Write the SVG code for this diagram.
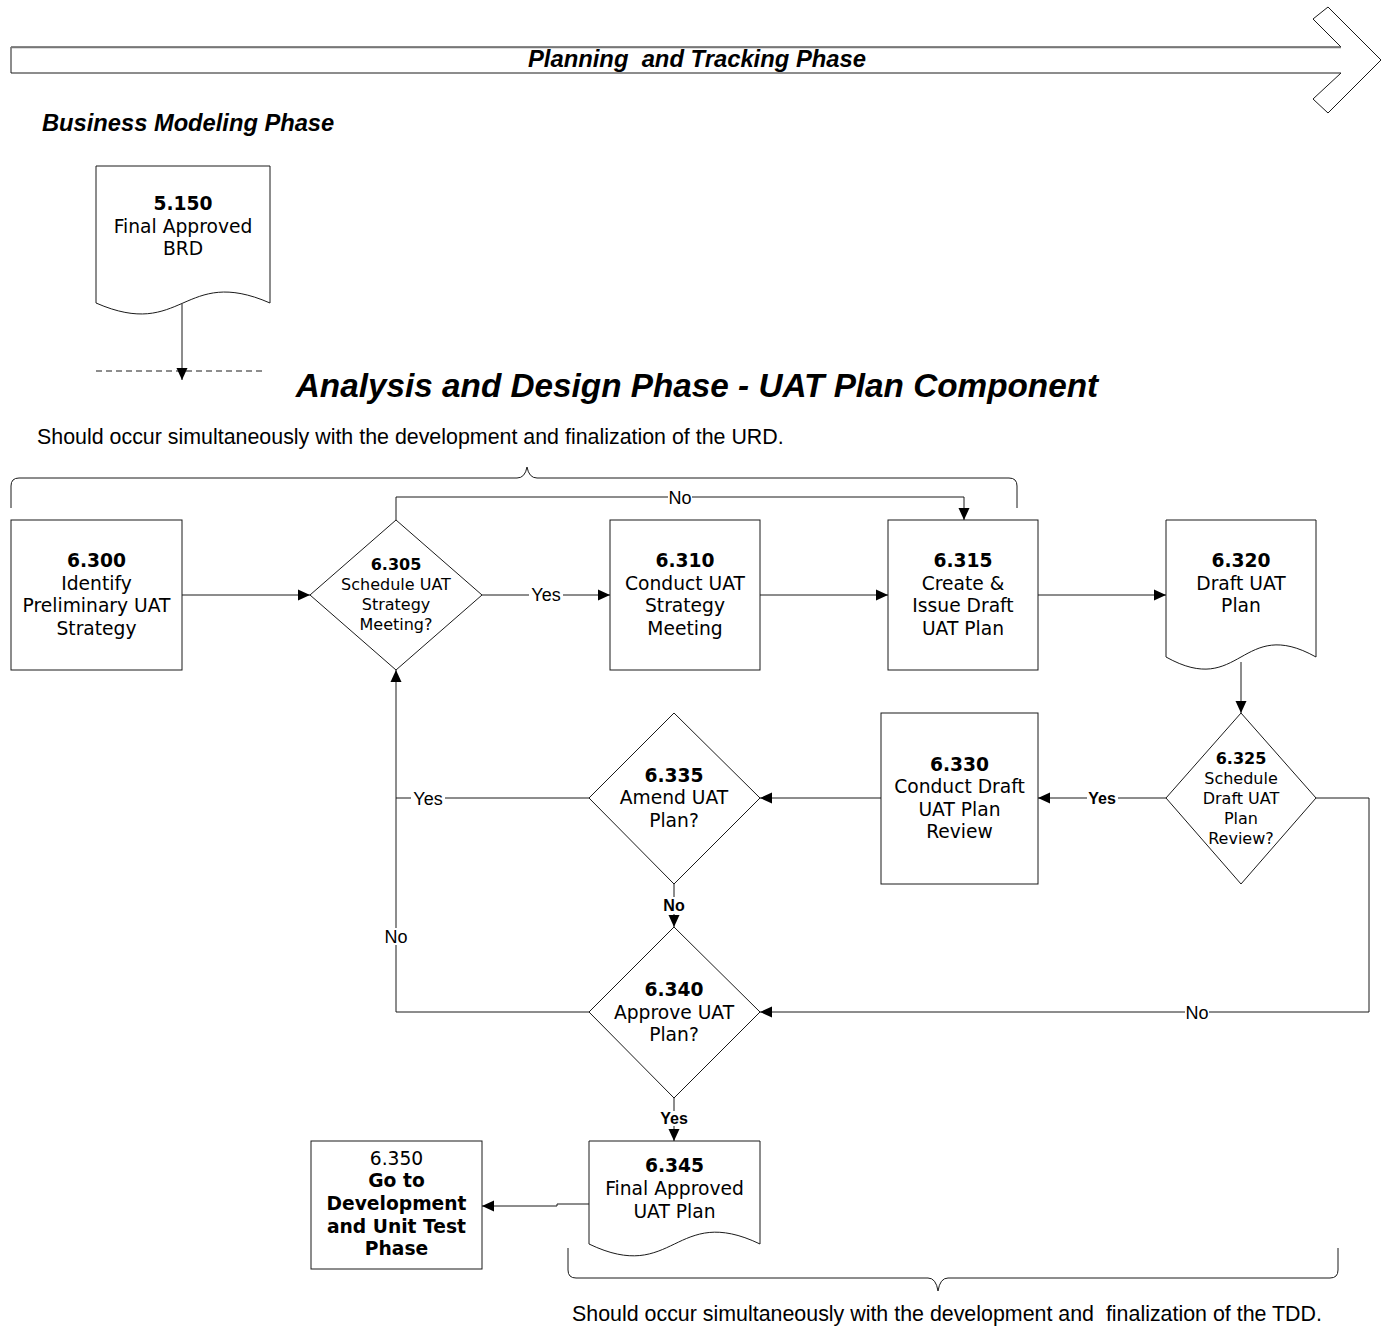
<svg xmlns="http://www.w3.org/2000/svg" width="1388" height="1328" viewBox="0 0 1388 1328">
  <defs>
    <marker id="arrow" viewBox="0 0 12 12" refX="12" refY="6" markerWidth="12" markerHeight="12" markerUnits="userSpaceOnUse" orient="auto">
      <path d="M0,0.5 L12,6 L0,11.5 Z" fill="#000"/>
    </marker>
    <style>
      .shape { fill: #fff; stroke: #1a1a1a; stroke-width: 1; }
      .line { fill: none; stroke: #1a1a1a; stroke-width: 1; }
      .node { font-family: "DejaVu Sans", Verdana, sans-serif; font-size: 18.7px; fill: #000; text-anchor: middle; }
      .small { font-size: 16px; }
      .num { font-weight: bold; }
      .lbl { font-family: "Liberation Sans", Arial, sans-serif; font-size: 18px; fill: #000; text-anchor: middle; }
      .lblb { font-family: "Liberation Sans", Arial, sans-serif; font-size: 16px; font-weight: bold; fill: #000; text-anchor: middle; }
      .phase { font-family: "Liberation Sans", Arial, sans-serif; font-weight: bold; font-style: italic; fill: #000; }
      .note { font-family: "Liberation Sans", Arial, sans-serif; font-size: 21.4px; fill: #000; }
      .bg { fill: #fff; stroke: none; }
    </style>
  </defs>

  <rect width="1388" height="1328" fill="#fff"/>

  <!-- Planning and tracking banner arrow -->
  <g id="planning-banner">
    <polygon class="shape" points="11,47 1341,47 1313,19 1328,7 1381,60 1328,113 1313,99 1341,73 11,73" stroke="#333"/>
    <path d="M11,47.5 H1341" stroke="#777" stroke-width="1.5" fill="none"/>
    <text class="phase" x="697" y="67" font-size="23.8" text-anchor="middle" xml:space="preserve">Planning  and Tracking Phase</text>
  </g>

  <text class="phase" x="42" y="131" font-size="23.7">Business Modeling Phase</text>

  <text class="phase" x="697" y="397" font-size="33.3" text-anchor="middle">Analysis and Design Phase - UAT Plan Component</text>

  <!-- annotations with braces -->
  <g id="annotations">
    <text class="note" x="37" y="444">Should occur simultaneously with the development and finalization of the URD.</text>
    <path class="line" d="M11,508 V486 Q11,478 19,478 H517 Q525,478 527,467 Q529,478 537,478 H1009 Q1017,478 1017,486 V508"/>
    <path class="line" d="M568,1248 V1270 Q568,1278 576,1278 H928 Q936,1278 938,1291 Q940,1278 948,1278 H1330 Q1338,1278 1338,1270 V1248"/>
    <text class="note" x="572" y="1321" xml:space="preserve">Should occur simultaneously with the development and  finalization of the TDD.</text>
  </g>

  <!-- nodes -->
  <g id="n5150">
    <path class="shape" d="M96,166 H270 V303 C183,265 183,341 96,303 Z"/>
    <text class="node"><tspan class="num" x="183" y="210">5.150</tspan><tspan x="183" y="233">Final Approved</tspan><tspan x="183" y="255">BRD</tspan></text>
  </g>

  <g id="n6300">
    <rect class="shape" x="11" y="520" width="171" height="150"/>
    <text class="node"><tspan class="num" x="96.5" y="567">6.300</tspan><tspan x="96.5" y="590">Identify</tspan><tspan x="96.5" y="612">Preliminary UAT</tspan><tspan x="96.5" y="635">Strategy</tspan></text>
  </g>

  <g id="n6305">
    <polygon class="shape" points="396,520 482,595 396,670 310,595"/>
    <text class="node small"><tspan class="num" x="396" y="570">6.305</tspan><tspan x="396" y="590">Schedule UAT</tspan><tspan x="396" y="610">Strategy</tspan><tspan x="396" y="630">Meeting?</tspan></text>
  </g>

  <g id="n6310">
    <rect class="shape" x="610" y="520" width="150" height="150"/>
    <text class="node"><tspan class="num" x="685" y="567">6.310</tspan><tspan x="685" y="590">Conduct UAT</tspan><tspan x="685" y="612">Strategy</tspan><tspan x="685" y="635">Meeting</tspan></text>
  </g>

  <g id="n6315">
    <rect class="shape" x="888" y="520" width="150" height="150"/>
    <text class="node"><tspan class="num" x="963" y="567">6.315</tspan><tspan x="963" y="590">Create &amp;</tspan><tspan x="963" y="612">Issue Draft</tspan><tspan x="963" y="635">UAT Plan</tspan></text>
  </g>

  <g id="n6320">
    <path class="shape" d="M1166,520 H1316 V657 C1241,615 1241,699 1166,657 Z"/>
    <text class="node"><tspan class="num" x="1241" y="567">6.320</tspan><tspan x="1241" y="590">Draft UAT</tspan><tspan x="1241" y="612">Plan</tspan></text>
  </g>

  <g id="n6325">
    <polygon class="shape" points="1241,713 1316,798 1241,884 1166,798"/>
    <text class="node small"><tspan class="num" x="1241" y="764">6.325</tspan><tspan x="1241" y="784">Schedule</tspan><tspan x="1241" y="804">Draft UAT</tspan><tspan x="1241" y="824">Plan</tspan><tspan x="1241" y="844">Review?</tspan></text>
  </g>

  <g id="n6330">
    <rect class="shape" x="881" y="713" width="157" height="171"/>
    <text class="node"><tspan class="num" x="959.5" y="771">6.330</tspan><tspan x="959.5" y="793">Conduct Draft</tspan><tspan x="959.5" y="816">UAT Plan</tspan><tspan x="959.5" y="838">Review</tspan></text>
  </g>

  <g id="n6335">
    <polygon class="shape" points="674,713 760,798 674,884 589,798"/>
    <text class="node"><tspan class="num" x="674" y="782">6.335</tspan><tspan x="674" y="804">Amend UAT</tspan><tspan x="674" y="827">Plan?</tspan></text>
  </g>

  <g id="n6340">
    <polygon class="shape" points="674,927 760,1012 674,1098 589,1012"/>
    <text class="node"><tspan class="num" x="674" y="996">6.340</tspan><tspan x="674" y="1019">Approve UAT</tspan><tspan x="674" y="1041">Plan?</tspan></text>
  </g>

  <g id="n6345">
    <path class="shape" d="M589,1141 H760 V1244 C674.5,1203 674.5,1285 589,1244 Z"/>
    <text class="node"><tspan class="num" x="674.5" y="1172">6.345</tspan><tspan x="674.5" y="1195">Final Approved</tspan><tspan x="674.5" y="1218">UAT Plan</tspan></text>
  </g>

  <g id="n6350">
    <rect class="shape" x="311" y="1141" width="171" height="128"/>
    <text class="node"><tspan x="396.5" y="1165">6.350</tspan><tspan class="num" x="396.5" y="1187">Go to</tspan><tspan class="num" x="396.5" y="1210">Development</tspan><tspan class="num" x="396.5" y="1233">and Unit Test</tspan><tspan class="num" x="396.5" y="1255">Phase</tspan></text>
  </g>

  <!-- connectors -->
  <g id="connectors">
    <path class="line" d="M96,371 H264" stroke-dasharray="6 4"/>
    <path class="line" d="M182,304 V380" marker-end="url(#arrow)"/>
    <path class="line" d="M182,595 H310" marker-end="url(#arrow)"/>
    <path class="line" d="M482,595 H610" marker-end="url(#arrow)"/>
    <path class="line" d="M396,520 V497 H964 V520" marker-end="url(#arrow)"/>
    <path class="line" d="M760,595 H888" marker-end="url(#arrow)"/>
    <path class="line" d="M1038,595 H1166" marker-end="url(#arrow)"/>
    <path class="line" d="M1241,662 V713" marker-end="url(#arrow)"/>
    <path class="line" d="M1166,798 H1038" marker-end="url(#arrow)"/>
    <path class="line" d="M881,798 H760" marker-end="url(#arrow)"/>
    <path class="line" d="M589,798 H396 V670" marker-end="url(#arrow)"/>
    <path class="line" d="M674,884 V927" marker-end="url(#arrow)"/>
    <path class="line" d="M589,1012 H396 V798"/>
    <path class="line" d="M1316,798 H1369 V1012 H760" marker-end="url(#arrow)"/>
    <path class="line" d="M674,1098 V1141" marker-end="url(#arrow)"/>
    <path class="line" d="M589,1204 H557 V1206 H482" marker-end="url(#arrow)"/>

    <!-- connector labels -->
    <rect class="bg" x="529" y="588" width="34" height="15"/>
    <text class="lbl" x="546" y="601">Yes</text>
    <rect class="bg" x="668" y="490" width="24" height="15"/>
    <text class="lbl" x="680" y="504">No</text>
    <rect class="bg" x="1087" y="791" width="31" height="14"/>
    <text class="lblb" x="1102" y="804">Yes</text>
    <rect class="bg" x="411" y="791" width="34" height="15"/>
    <text class="lbl" x="428" y="805">Yes</text>
    <rect class="bg" x="663" y="897" width="23" height="17"/>
    <text class="lblb" x="674" y="911">No</text>
    <rect class="bg" x="385" y="928" width="24" height="17"/>
    <text class="lbl" x="396" y="943">No</text>
    <rect class="bg" x="1185" y="1005" width="24" height="15"/>
    <text class="lbl" x="1197" y="1019">No</text>
    <rect class="bg" x="659" y="1111" width="31" height="15"/>
    <text class="lblb" x="674" y="1124">Yes</text>
  </g>
</svg>
